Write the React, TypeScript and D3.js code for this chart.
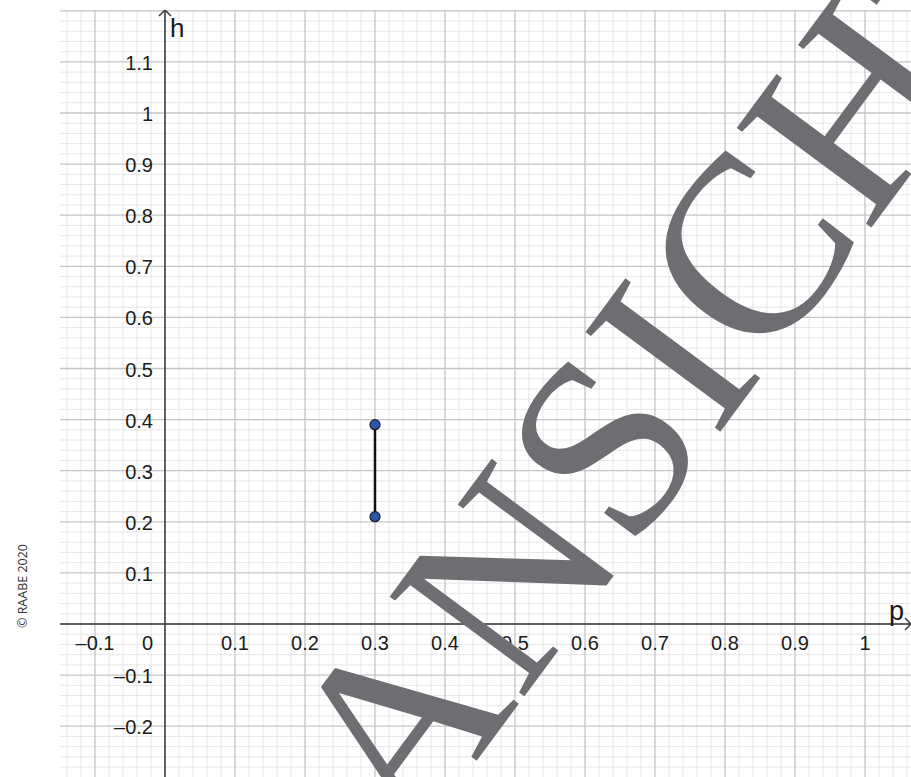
import React from 'react';
import * as d3 from 'd3';

// ---- data ----
const xTickValues = [-0.1, 0.1, 0.2, 0.3, 0.4, 0.5, 0.6, 0.7, 0.8, 0.9, 1];
const yTickValues = [1.1, 1, 0.9, 0.8, 0.7, 0.6, 0.5, 0.4, 0.3, 0.2, 0.1, -0.1, -0.2];
const segmentX = [0.3, 0.3];
const segmentY = [0.21, 0.39];
const xAxisName = 'p';
const yAxisName = 'h';
const watermark = 'VORANSICHT';
const copyright = '© RAABE 2020';

const W = 911;
const H = 777;
const LEFT = 60;
const TOP = 10;

const fmt = (v: number) => (v < 0 ? '\u2013' : '') + d3.format('~g')(Math.abs(v));

export default function App() {
  const x = d3.scaleLinear().domain([0, 1]).range([165, 865]);
  const y = d3.scaleLinear().domain([0, 1]).range([624, 113]);

  const xMin = x.invert(LEFT), xMax = x.invert(W);
  const yMin = y.invert(H), yMax = y.invert(TOP);

  const minorX = d3.range(Math.ceil(xMin / 0.02), Math.floor(xMax / 0.02) + 1).filter(i => i % 5 !== 0);
  const majorX = d3.range(Math.ceil(xMin / 0.1), Math.floor(xMax / 0.1) + 1);
  const minorY = d3.range(Math.ceil(yMin / 0.02 - 1e-6), Math.floor(yMax / 0.02 + 1e-6) + 1).filter(i => i % 5 !== 0);
  const majorY = d3.range(Math.ceil(yMin / 0.1 - 1e-6), Math.floor(yMax / 0.1 + 1e-6) + 1);

  const font = '"Liberation Sans", Arial, sans-serif';
  const x0 = x(0), y0 = y(0);
  const wmSize = 256;

  return (
    <svg width={W} height={H} style={{ position: 'absolute', left: 0, top: 0, display: 'block', background: '#fff' }}>
      <defs>
        <clipPath id="plot">
          <rect x={LEFT} y={TOP} width={W - LEFT} height={H - TOP} />
        </clipPath>
      </defs>
      <g clipPath="url(#plot)">
        {minorX.map(i => (
          <line key={'mx' + i} x1={x(i * 0.02)} x2={x(i * 0.02)} y1={TOP} y2={H} stroke="#e6e6e6" strokeWidth={1} />
        ))}
        {minorY.map(i => (
          <line key={'my' + i} y1={y(i * 0.02)} y2={y(i * 0.02)} x1={LEFT} x2={W} stroke="#e6e6e6" strokeWidth={1} />
        ))}
        {majorX.map(i => (
          <line key={'Mx' + i} x1={x(i * 0.1)} x2={x(i * 0.1)} y1={TOP} y2={H} stroke="#c4c4c4" strokeWidth={1.3} />
        ))}
        {majorY.map(i => (
          <line key={'My' + i} y1={y(i * 0.1)} y2={y(i * 0.1)} x1={LEFT} x2={W} stroke="#c4c4c4" strokeWidth={1.3} />
        ))}
        {/* axes */}
        <line x1={LEFT} x2={W} y1={y0} y2={y0} stroke="#3a3a3a" strokeWidth={1.5} />
        <line x1={x0} x2={x0} y1={TOP} y2={H} stroke="#3a3a3a" strokeWidth={1.5} />
        <polyline points={`${x0 - 6},${TOP + 6} ${x0},${TOP} ${x0 + 6},${TOP + 6}`} fill="none" stroke="#3a3a3a" strokeWidth={1.5} />
        <polyline points={`${W - 6},${y0 - 6} ${W},${y0} ${W - 6},${y0 + 6}`} fill="none" stroke="#3a3a3a" strokeWidth={1.5} />
      </g>
      {/* tick labels */}
      <g fontFamily={font} fontSize={20} fill="#1a1a1a">
        {xTickValues.map(v => (
          <text key={'xl' + v} x={x(v)} y={y0 + 26} textAnchor="middle">{fmt(v)}</text>
        ))}
        <text x={x0 - 12} y={y0 + 26} textAnchor="end">0</text>
        {yTickValues.map(v => (
          <text key={'yl' + v} x={x0 - 12} y={y(v) + 8} textAnchor="end">{fmt(v)}</text>
        ))}
      </g>
      <text x={x0 + 5} y={TOP + 27} fontFamily={font} fontSize={26} fill="#1a1a1a">{yAxisName}</text>
      <text x={889} y={y0 - 4} fontFamily={font} fontSize={27} fill="#1a1a1a">{xAxisName}</text>
      {/* segment */}
      <line x1={x(segmentX[0])} x2={x(segmentX[1])} y1={y(segmentY[0])} y2={y(segmentY[1])} stroke="#111" strokeWidth={2.5} />
      {segmentY.map((v, i) => (
        <circle key={'pt' + i} cx={x(segmentX[i])} cy={y(v)} r={5} fill="#2b56a8" stroke="#1a1a2a" strokeWidth={1.2} />
      ))}
      {/* watermark */}
      <g transform="translate(740,405) rotate(-53.5)">
        <text
          x={-4.278 * wmSize}
          y={0}
          textAnchor="start"
          fontFamily='"Liberation Serif", "Times New Roman", serif'
          fontSize={wmSize}
          fill="#6d6e71"
        >
          {watermark}
        </text>
      </g>
      {/* copyright */}
      <text
        transform="translate(27,586) rotate(-90)"
        textAnchor="middle"
        fontFamily='"Open Sans", "Liberation Sans", sans-serif'
        fontSize={12.5}
        fill="#333"
      >
        {copyright}
      </text>
    </svg>
  );
}
